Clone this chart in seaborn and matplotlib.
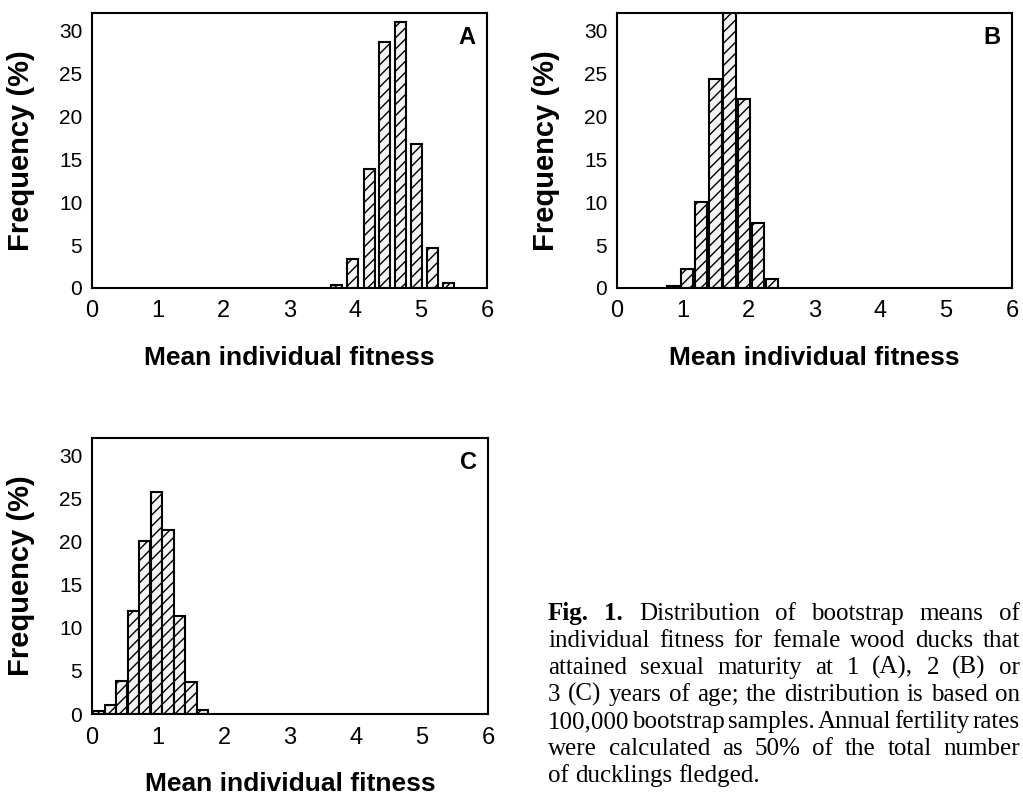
import matplotlib
matplotlib.use("Agg")
import matplotlib.pyplot as plt
import seaborn as sns
import pandas as pd

# bin centres (mean individual fitness) and frequency (%)
fit_a = [3.72, 3.96, 4.21, 4.45, 4.69, 4.93, 5.17, 5.41]
freq_a = [0.4, 3.4, 13.9, 28.6, 30.9, 16.8, 4.7, 0.6]

fit_b = [0.85, 1.065, 1.28, 1.495, 1.71, 1.925, 2.14, 2.355]
freq_b = [0.2, 2.2, 10.0, 24.3, 33.0, 22.0, 7.6, 1.0]

fit_c = [0.10, 0.275, 0.45, 0.625, 0.80, 0.975, 1.15, 1.325, 1.50, 1.675]
freq_c = [0.4, 1.0, 3.8, 12.0, 20.1, 25.7, 21.3, 11.4, 3.7, 0.5]

x_ticks = [0, 1, 2, 3, 4, 5, 6]
y_ticks = [0, 5, 10, 15, 20, 25, 30]

caption = [
    "Fig. 1. Distribution of bootstrap means of",
    "individual fitness for female wood ducks that",
    "attained sexual maturity at 1 (A), 2 (B) or",
    "3 (C) years of age; the distribution is based on",
    "100,000 bootstrap samples. Annual fertility rates",
    "were calculated as 50% of the total number",
    "of ducklings fledged.",
]

W, H = 1023, 795
sns.set_style("white")
plt.rcParams["font.family"] = ["Liberation Sans", "DejaVu Sans"]
plt.rcParams["hatch.linewidth"] = 1.0
for k in ["text.color", "axes.labelcolor", "xtick.color", "ytick.color", "axes.edgecolor"]:
    plt.rcParams[k] = "black"

fig = plt.figure(figsize=(W / 100, H / 100), dpi=100)

panels = [
    ("A", fit_a, freq_a, [92, 13, 395, 275], 0.70),
    ("B", fit_b, freq_b, [617, 13, 395, 275], 0.88),
    ("C", fit_c, freq_c, [92, 438, 396, 276], 0.97),
]

for letter, fit, freq, (l, t, w, h), bw in panels:
    ax = fig.add_axes([l / W, 1 - (t + h) / H, w / W, h / H])
    df = pd.DataFrame({"fitness": fit, "freq": freq})
    sns.barplot(data=df, x="fitness", y="freq", native_scale=True, width=bw,
                color="white", edgecolor="black", linewidth=1.5, ax=ax)
    for p in ax.patches:
        p.set_hatch("///")
        p.set_facecolor("#f4f4f4")
    ax.set_xlim(0, 6)
    ax.set_ylim(0, 32)
    ax.set_xticks(x_ticks)
    ax.set_yticks(y_ticks)
    ax.tick_params(axis="x", direction="out", length=4, width=1.2, labelsize=17, pad=5)
    ax.tick_params(axis="y", direction="out", length=4, width=1.2, labelsize=15, pad=3)
    for s in ax.spines.values():
        s.set_linewidth(1.5)
        s.set_color("black")
    ax.set_xlabel("Mean individual fitness", fontsize=19, fontweight="bold")
    ax.set_ylabel("Frequency (%)", fontsize=21, fontweight="bold")
    ax.xaxis.set_label_coords(0.5, -0.255)
    ax.xaxis.label.set_va("center")
    ax.yaxis.set_label_coords(-0.18, 0.5)
    ax.yaxis.label.set_va("center")
    ax.text(0.95, 0.91, letter, transform=ax.transAxes, fontsize=17,
            fontweight="bold", ha="center", va="center")

# justified caption beside panel C
fig.canvas.draw()
rend = fig.canvas.get_renderer()
left_px, right_px = 548, 1020
baselines = [620, 647, 674, 701, 728, 755, 782]
for i, line in enumerate(caption):
    words = line.split()
    texts = []
    for j, wd in enumerate(words):
        bold = i == 0 and j < 2
        texts.append(fig.text(0, 0, wd, fontsize=18, family=["Liberation Serif", "DejaVu Serif"],
                              fontweight="bold" if bold else "normal",
                              ha="left", va="baseline"))
    widths = [tx.get_window_extent(rend).width for tx in texts]
    if i < len(caption) - 1:
        gap = (right_px - left_px - sum(widths)) / (len(words) - 1)
    else:
        gap = 6
    x = left_px
    for tx, wd in zip(texts, widths):
        tx.set_position((x / W, 1 - baselines[i] / H))
        x += wd + gap

fig.savefig("out.png", dpi=100)
